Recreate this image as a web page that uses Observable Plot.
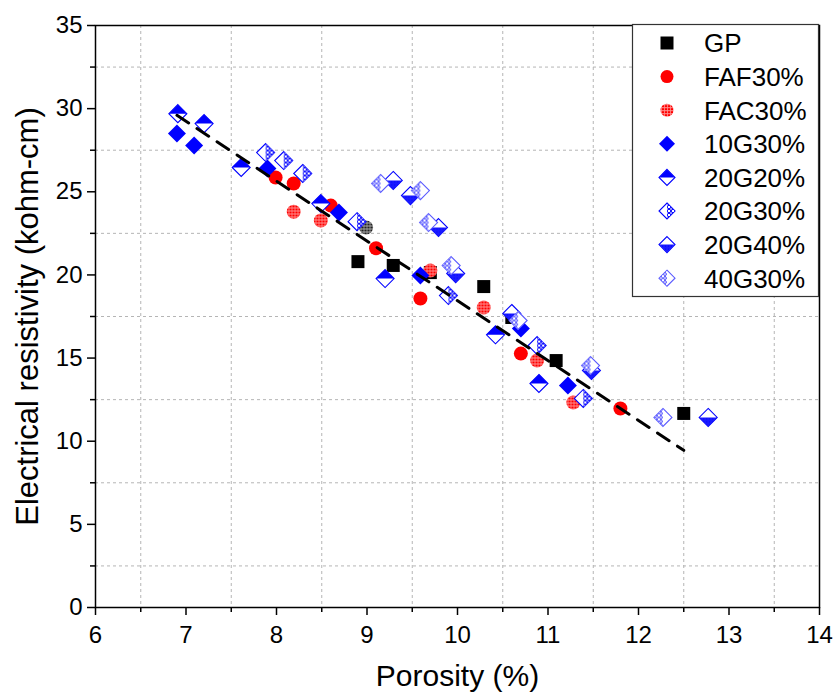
<!DOCTYPE html>
<html>
<head>
<meta charset="utf-8">
<script src="https://cdn.jsdelivr.net/npm/d3@7"></script>
<script src="https://cdn.jsdelivr.net/npm/@observablehq/plot@0.6"></script>
<style>
  html, body { margin: 0; padding: 0; background: #fff; }
  #chart { width: 834px; height: 700px; }
</style>
</head>
<body>
<div id="chart"></div>
<script>
// ---------- data ----------
const xMajor = [6, 7, 8, 9, 10, 11, 12, 13, 14];
const xMinor = [6.5, 7.5, 8.5, 9.5, 10.5, 11.5, 12.5, 13.5];
const yMajor = [0, 5, 10, 15, 20, 25, 30, 35];
const yMinor = [2.5, 7.5, 12.5, 17.5, 22.5, 27.5, 32.5];

const seriesNames = ["GP", "FAF30%", "FAC30%", "10G30%", "20G20%", "20G30%", "20G40%", "40G30%"];

const gpX = [8.90, 9.29, 9.70, 10.29, 10.60, 11.09, 12.50];
const gpY = [20.8, 20.57, 20.14, 19.3, 17.44, 14.85, 11.67];

const fafX = [7.99, 8.19, 8.60, 9.10, 9.59, 10.70, 11.80];
const fafY = [25.86, 25.5, 24.17, 21.6, 18.58, 15.27, 11.97];

const facX = [8.19, 8.49, 9.70, 10.29, 10.88, 11.28];
const facY = [23.8, 23.27, 20.26, 18.04, 14.85, 12.33];

const greyX = [8.99];
const greyY = [22.85];

const g10_30X = [6.90, 7.09, 7.90, 8.69, 9.59, 10.70, 11.22];
const g10_30Y = [28.5, 27.78, 26.4, 23.75, 19.96, 16.78, 13.35];

const g20_20X = [6.91, 7.20, 7.61, 8.49, 9.20, 10.42, 10.90];
const g20_20Y = [29.7, 29.1, 26.46, 24.29, 19.78, 16.4, 13.47];

const g20_30X = [7.88, 8.08, 8.29, 8.89, 9.90, 10.88, 11.39];
const g20_30Y = [27.36, 26.88, 26.1, 23.2, 18.76, 15.75, 12.57];

const g20_40X = [9.29, 9.48, 9.79, 9.98, 10.60, 11.48, 12.77];
const g20_40Y = [25.68, 24.77, 22.85, 20.08, 17.68, 14.25, 11.43];

const g40_30X = [9.15, 9.59, 9.68, 9.93, 10.67, 11.47, 12.27];
const g40_30Y = [25.5, 25.07, 23.15, 20.56, 17.26, 14.55, 11.43];

const trendX = [6.9, 12.5];
const trendY = [29.6, 9.45];

// ---------- helpers ----------
const rows = (xs, ys) => xs.map((x, i) => ({x, y: ys[i]}));

function sym(fn) {
  return {draw(ctx, size) { const h = Math.sqrt(size / Math.PI); fn(ctx, h); }};
}
const SQUARE = sym((c, h) => { c.rect(-h, -h, 2 * h, 2 * h); });
const DIAMOND = sym((c, h) => { c.moveTo(0, -h); c.lineTo(h, 0); c.lineTo(0, h); c.lineTo(-h, 0); c.closePath(); });
const D_TOP = sym((c, h) => { c.moveTo(-h, 0); c.lineTo(0, -h); c.lineTo(h, 0); c.closePath(); });
const D_BOTTOM = sym((c, h) => { c.moveTo(-h, 0); c.lineTo(0, h); c.lineTo(h, 0); c.closePath(); });
const D_RIGHT = sym((c, h) => { c.moveTo(0, -h); c.lineTo(h, 0); c.lineTo(0, h); c.closePath(); });
const D_LEFT = sym((c, h) => { c.moveTo(0, -h); c.lineTo(-h, 0); c.lineTo(0, h); c.closePath(); });

const BLUE = "#0000ff";
const RED = "#ff0000";
const DR = 9, CR = 7, SR = 6.5;

// style per series (drawing layers)
const styles = [
  [{symbol: SQUARE, r: SR, fill: "black", stroke: "none"}],
  [{symbol: "circle", r: CR, fill: RED, stroke: "none"}],
  [{symbol: "circle", r: CR, fill: "url(#facPat)", stroke: "none"}],
  [{symbol: DIAMOND, r: DR, fill: BLUE, stroke: "none"}],
  [{symbol: DIAMOND, r: DR, fill: "white", stroke: BLUE}, {symbol: D_TOP, r: DR, fill: BLUE, stroke: "none"}],
  [{symbol: DIAMOND, r: DR, fill: "white", stroke: BLUE}, {symbol: D_RIGHT, r: DR, fill: "url(#hatchR)", stroke: "none"}],
  [{symbol: DIAMOND, r: DR, fill: "white", stroke: BLUE}, {symbol: D_BOTTOM, r: DR, fill: "url(#hatchB)", stroke: "none"}],
  [{symbol: DIAMOND, r: DR, fill: "white", stroke: "#5a5aff"}, {symbol: D_LEFT, r: DR, fill: "url(#hatchL)", stroke: "none"}]
];
const seriesData = [
  rows(gpX, gpY), rows(fafX, fafY), rows(facX, facY), rows(g10_30X, g10_30Y),
  rows(g20_20X, g20_20Y), rows(g20_30X, g20_30Y), rows(g20_40X, g20_40Y), rows(g40_30X, g40_30Y)
];

const dotMarks = [];
seriesData.forEach((data, i) => {
  styles[i].forEach(st => {
    dotMarks.push(Plot.dot(data, {x: "x", y: "y", symbol: st.symbol, r: st.r, fill: st.fill, stroke: st.stroke, strokeWidth: 1.1}));
  });
  if (i === 2) {
    dotMarks.push(Plot.dot(rows(greyX, greyY), {x: "x", y: "y", symbol: "circle", r: CR, fill: "url(#greyPat)", stroke: "none"}));
  }
});

const FONT = "'Liberation Sans', Arial, Helvetica, sans-serif";

const svg = Plot.plot({
  width: 834,
  height: 700,
  marginLeft: 95,
  marginRight: 15,
  marginTop: 25,
  marginBottom: 93,
  style: {fontFamily: FONT, color: "black", background: "white", overflow: "visible"},
  x: {domain: [6, 14]},
  y: {domain: [0, 35]},
  marks: [
    Plot.gridX(xMinor, {stroke: "#b5b5b5", strokeOpacity: 1, strokeDasharray: "3,3", strokeWidth: 1}),
    Plot.gridY(yMinor, {stroke: "#b5b5b5", strokeOpacity: 1, strokeDasharray: "3,3", strokeWidth: 1}),
    Plot.axisX(xMajor, {tickSize: 8, tickPadding: 10, fontSize: 24, strokeWidth: 1.5, label: null, tickFormat: d => String(d)}),
    Plot.axisX(xMinor, {tickSize: 5, strokeWidth: 1.5, label: null, tickFormat: () => ""}),
    Plot.axisY(yMajor, {tickSize: 8, tickPadding: 5, fontSize: 24, strokeWidth: 1.5, label: null, tickFormat: d => String(d)}),
    Plot.axisY(yMinor, {tickSize: 5, strokeWidth: 1.5, label: null, tickFormat: () => ""}),
    ...dotMarks,
    Plot.line(rows(trendX, trendY), {x: "x", y: "y", stroke: "black", strokeWidth: 3, strokeDasharray: "14,10"}),
    Plot.frame({stroke: "black", strokeWidth: 1.5}),
    Plot.text(["Porosity (%)"], {frameAnchor: "bottom", dy: 78, fontSize: 30, fill: "black", textAnchor: "middle"}),
    Plot.text(["Electrical resistivity (kohm-cm)"], {frameAnchor: "left", dx: -67, rotate: -90, fontSize: 31, fill: "black", textAnchor: "middle"})
  ]
});

// ---------- patterns ----------
const root = d3.select(svg);
// enlarge numeric tick labels (only axis tick labels are pure numbers)
root.selectAll("text").filter(function() { return /^\d+$/.test(this.textContent.trim()); })
  .style("font-size", "24px");
const defs = root.insert("defs", ":first-child");
function pat(id, size, build) {
  const p = defs.append("pattern").attr("id", id).attr("patternUnits", "userSpaceOnUse")
    .attr("width", size).attr("height", size);
  build(p);
}
pat("facPat", 3, p => {
  p.append("rect").attr("width", 3).attr("height", 3).attr("fill", "#ff0000");
  p.append("rect").attr("x", 0).attr("y", 0).attr("width", 1).attr("height", 3).attr("fill", "#ff7070");
  p.append("rect").attr("x", 0).attr("y", 0).attr("width", 3).attr("height", 1).attr("fill", "#ff9090");
});
pat("greyPat", 3, p => {
  p.append("rect").attr("width", 3).attr("height", 3).attr("fill", "#222");
  p.append("rect").attr("x", 0).attr("y", 0).attr("width", 1).attr("height", 3).attr("fill", "#888");
  p.append("rect").attr("x", 0).attr("y", 0).attr("width", 3).attr("height", 1).attr("fill", "#aaa");
});
pat("hatchR", 4, p => {
  p.append("rect").attr("width", 4).attr("height", 4).attr("fill", "white");
  p.append("path").attr("d", "M0,0L4,4M4,0L0,4M0,2L4,2").attr("stroke", BLUE).attr("stroke-width", 0.9);
});
pat("hatchB", 3, p => {
  p.append("rect").attr("width", 3).attr("height", 3).attr("fill", "white");
  p.append("path").attr("d", "M0,0L3,3M3,0L0,3M0,1.5L3,1.5M1.5,0L1.5,3").attr("stroke", BLUE).attr("stroke-width", 0.9);
});
pat("hatchL", 4, p => {
  p.append("rect").attr("width", 4).attr("height", 4).attr("fill", "white");
  p.append("path").attr("d", "M0,0L4,4M4,0L0,4M2,0L2,4").attr("stroke", "#4a4aff").attr("stroke-width", 0.8);
});

// ---------- legend (inside the plot, top right) ----------
const lg = root.append("g").attr("font-family", FONT);
lg.append("rect").attr("x", 632.5).attr("y", 24.5).attr("width", 186).attr("height", 272)
  .attr("fill", "white").attr("stroke", "#333").attr("stroke-width", 1.2);
seriesNames.forEach((name, i) => {
  const cy = 43 + i * 33.6;
  const g = lg.append("g").attr("transform", `translate(667,${cy})`);
  styles[i].forEach(st => {
    const type = st.symbol === "circle" ? d3.symbolCircle : st.symbol;
    const r = st.symbol === "circle" ? 6.5 : (st.symbol === SQUARE ? 6.5 : 8);
    g.append("path").attr("d", d3.symbol(type, Math.PI * r * r)())
      .attr("fill", st.fill).attr("stroke", st.stroke).attr("stroke-width", 1.1);
  });
  lg.append("text").attr("x", 704).attr("y", cy).attr("dy", "0.36em")
    .attr("text-anchor", "start")
    .attr("font-size", 26).attr("fill", "black").text(name);
});

document.getElementById("chart").appendChild(svg);
</script>
</body>
</html>
